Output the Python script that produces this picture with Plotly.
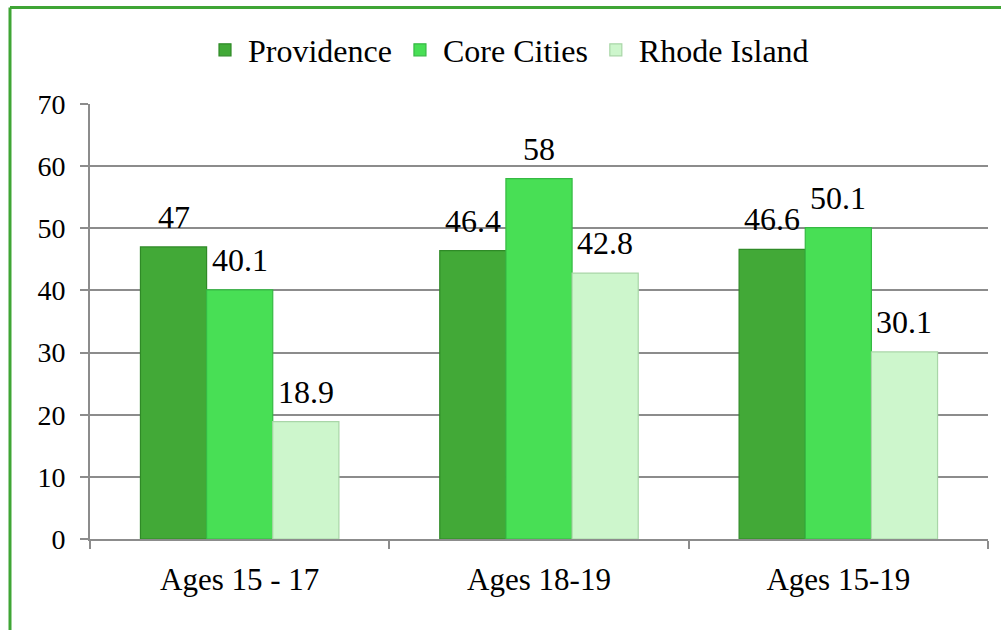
import plotly.graph_objects as go

categories = ["Ages 15 - 17", "Ages 18-19", "Ages 15-19"]
series_names = ["Providence", "Core Cities", "Rhode Island"]
providence = [47, 46.4, 46.6]
core_cities = [40.1, 58, 50.1]
rhode_island = [18.9, 42.8, 30.1]
y_ticks = [0, 10, 20, 30, 40, 50, 60, 70]

fills = ["#42a937", "#48df55", "#cdf6cc"]
edges = ["#2f8a27", "#36b944", "#a9d6a8"]
series_values = [providence, core_cities, rhode_island]

W, H = 1001, 630
ml, mr, mt, mb = 90, 13, 104, 91
pw, ph = W - ml - mr, H - mt - mb
FONT = "'Liberation Serif', 'Times New Roman', serif"

fig = go.Figure()
for name, vals, fc, ec in zip(series_names, series_values, fills, edges):
    fig.add_trace(go.Bar(
        x=categories, y=vals, name=name,
        marker=dict(color=fc, line=dict(color=ec, width=1.2)),
    ))

annotations = []
bar_px = pw / 3 * (1 - 0.337) / 3
for i, vals in enumerate(series_values):
    for c, v in zip(categories, vals):
        annotations.append(dict(
            x=c, y=v, xref="x", yref="y", text=f"{v:g}", showarrow=False,
            xshift=(i - 1) * bar_px, yanchor="bottom", yshift=10,
            font=dict(family=FONT, size=32, color="#000"),
        ))

def px_x(p):
    return (p - ml) / pw

def px_y(p):
    return (H - mb - p) / ph

shapes = [
    dict(type="line", xref="paper", yref="paper",
         x0=px_x(10), x1=px_x(10), y0=px_y(H + 5), y1=px_y(7.5),
         line=dict(color="#3fa535", width=3)),
    dict(type="line", xref="paper", yref="paper",
         x0=px_x(10), x1=px_x(W + 5), y0=px_y(7.5), y1=px_y(7.5),
         line=dict(color="#3fa535", width=3)),
]

fig.update_layout(
    width=W, height=H,
    margin=dict(l=ml, r=mr, t=mt, b=mb),
    paper_bgcolor="white", plot_bgcolor="white",
    barmode="group", bargap=0.337, bargroupgap=0,
    font=dict(family=FONT, color="#000"),
    legend=dict(orientation="h", x=px_x(508), xanchor="center", y=px_y(50), yanchor="middle",
                font=dict(family=FONT, size=32), itemwidth=36, traceorder="normal"),
    annotations=annotations,
    shapes=shapes,
    xaxis=dict(showline=True, linecolor="#8c8c8c", linewidth=2,
               ticks="outside", tickson="boundaries", ticklen=8, tickcolor="#8c8c8c", tickwidth=2,
               ticklabelstandoff=12,
               tickfont=dict(family=FONT, size=31), showgrid=False),
    yaxis=dict(range=[0, 70], tickvals=y_ticks, showline=True, linecolor="#8c8c8c", linewidth=2,
               ticks="outside", ticklen=8, tickcolor="#8c8c8c", tickwidth=2,
               ticklabelstandoff=9,
               gridcolor="#8c8c8c", gridwidth=1.5, zeroline=False,
               tickfont=dict(family=FONT, size=28)),
)

fig.write_html("out.html", config={"displayModeBar": False},
               post_script="document.body.style.margin='0';document.body.style.overflow='hidden';")
